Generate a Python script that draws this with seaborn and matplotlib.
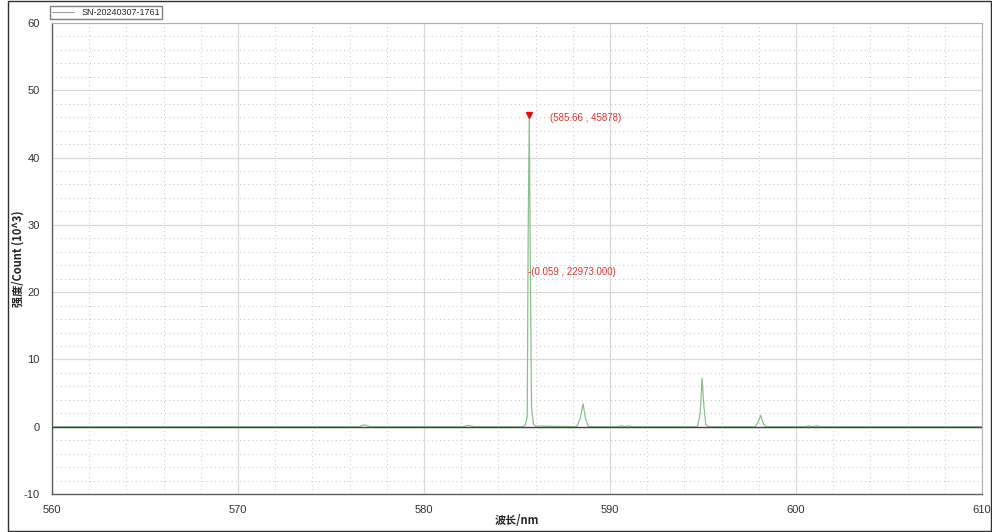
import matplotlib
matplotlib.use("Agg")
import matplotlib.pyplot as plt
import seaborn as sns
import pandas as pd
from matplotlib.lines import Line2D
from matplotlib.patches import Rectangle
from matplotlib.ticker import MultipleLocator

# spectrum samples (wavelength nm, intensity 10^3 counts)
wavelength = [560.0, 565.0, 570.0, 576.5, 576.8, 577.1, 580.0, 582.1, 582.4, 582.7,
              585.3, 585.45, 585.55, 585.60, 585.66, 585.72, 585.78, 585.88, 586.0,
              588.2, 588.4, 588.55, 588.7, 588.85,
              590.4, 590.6, 590.8, 591.0, 591.2,
              594.7, 594.85, 594.95, 595.05, 595.15, 595.3,
              597.8, 597.95, 598.1, 598.25, 598.4,
              600.5, 600.7, 600.9, 601.1, 601.3, 605.0, 610.0]
intensity = [0.0, 0.0, 0.0, 0.0, 0.3, 0.0, 0.0, 0.0, 0.2, 0.0,
             0.0, 0.3, 1.5, 28.5, 45.878, 22.973, 3.0, 0.4, 0.1,
             0.0, 1.2, 3.4, 1.0, 0.0,
             0.0, 0.15, 0.0, 0.15, 0.0,
             0.0, 2.0, 7.2, 3.0, 0.3, 0.0,
             0.0, 0.6, 1.7, 0.4, 0.0,
             0.0, 0.15, 0.0, 0.15, 0.0, 0.0, 0.0]

series_name = "SN-20240307-1761"
peak_x, peak_y = 585.66, 45.878
cursor_label = "(0.059 , 22973.000)"
cursor_y = 22.973

df = pd.DataFrame({"wl": wavelength, "val": intensity})

sns.set_style("white")
plt.rcParams["font.family"] = ["Liberation Sans", "Noto Sans CJK SC", "DejaVu Sans"]
plt.rcParams["axes.unicode_minus"] = False
cjk = ["Noto Sans CJK SC", "Liberation Sans"]

fig = plt.figure(figsize=(9.92, 5.32), dpi=100)
ax = fig.add_axes([52 / 992, 38 / 532, 930 / 992, 471 / 532])

sns.lineplot(data=df, x="wl", y="val", ax=ax, color="#8cc08c",
             linewidth=0.9, estimator=None, legend=False)
ax.axhline(0, color="#404040", linewidth=1.0, zorder=3)

ax.set_xlim(560, 610)
ax.set_ylim(-10, 60)
ax.xaxis.set_major_locator(MultipleLocator(10))
ax.xaxis.set_minor_locator(MultipleLocator(2))
ax.yaxis.set_major_locator(MultipleLocator(10))
ax.yaxis.set_minor_locator(MultipleLocator(2))
ax.grid(which="major", color="#d8d8d8", linewidth=0.9, linestyle="-")
ax.grid(which="minor", color="#b0b0b0", linewidth=0.6, linestyle=(0, (1, 4)))
ax.set_axisbelow(True)
ax.tick_params(which="major", direction="inout", length=6, width=0.8,
               color="#555555", labelsize=8, labelcolor="#333333")
ax.tick_params(axis="y", which="major", pad=6)
ax.tick_params(axis="x", which="major", pad=5)
ax.tick_params(which="minor", direction="inout", length=4, width=0.8,
               color="#555555")
for side in ["left", "bottom"]:
    ax.spines[side].set_color("#606060")
    ax.spines[side].set_linewidth(1.0)
for side in ["top", "right"]:
    ax.spines[side].set_color("#b0b0b0")
    ax.spines[side].set_linewidth(0.8)

ax.set_xlabel("波长/nm", fontsize=8, fontweight="bold", family=cjk)
ax.set_ylabel("强度/Count (10^3)", fontsize=8, fontweight="bold", family=cjk)
ax.xaxis.set_label_coords(0.5, -0.043)
ax.yaxis.set_label_coords(-0.03, 0.5)

# peak marker and labels
ax.plot([peak_x], [peak_y + 0.5], marker="v", color="#e01010", markersize=5,
        linestyle="none", zorder=5)
ax.text(586.75, peak_y, f"({peak_x} , {int(round(peak_y * 1000))})",
        color="#e03030", fontsize=7, va="center", ha="left")
ax.text(peak_x - 0.05, cursor_y, "-" + cursor_label, color="#e03030",
        fontsize=7, va="center", ha="left")

handle = Line2D([], [], color="#a0a0a0", linewidth=0.8)
fig.legend([handle], [series_name], loc="upper left",
           bbox_to_anchor=(50 / 992, 1 - 6 / 532), fontsize=6.5, frameon=True,
           fancybox=False, edgecolor="#606060", handlelength=2.5,
           borderpad=0.2, handletextpad=0.8, borderaxespad=0)

fig.patches.append(Rectangle((8 / 992, 1 / 532), 983 / 992, 530 / 532,
                             transform=fig.transFigure, fill=False,
                             edgecolor="#303030", linewidth=1.0))

fig.savefig("out.png", dpi=100)
